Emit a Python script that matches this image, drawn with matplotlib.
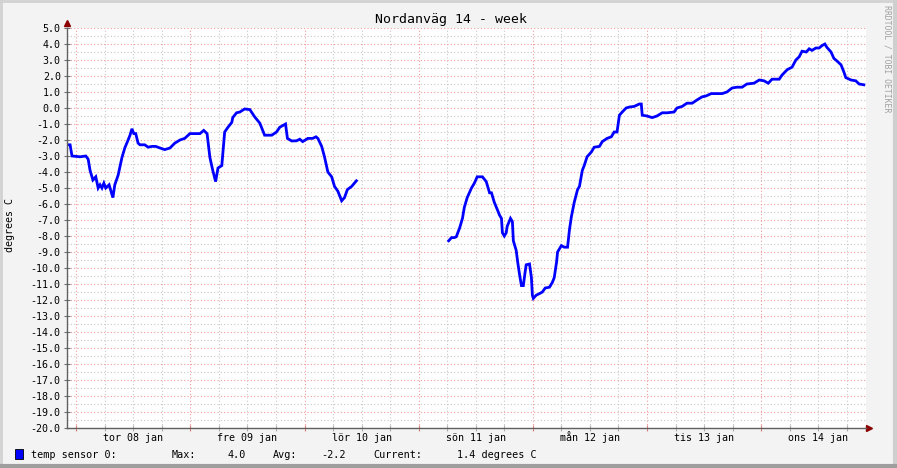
import numpy as np
import matplotlib
matplotlib.use("Agg")
import matplotlib.pyplot as plt
from matplotlib.lines import Line2D

# hours since tor 08 jan 00:00, temperature in degrees C
hours1 = [-1.95, -1.3, -0.9, 0.8, 2.0, 2.5, 2.9, 3.5, 4.1, 4.6, 5.0, 5.4, 5.8, 6.2,
          6.9, 7.3, 7.7, 8.1, 8.8, 9.6, 10.2, 10.9, 11.3, 11.7, 12.1, 12.5, 13.0,
          13.4, 14.4, 15.1, 15.9, 16.7, 17.6, 18.6, 19.7, 20.7, 21.8, 22.8, 23.9,
          24.9, 26.0, 26.8, 27.5, 28.1, 28.7, 29.3, 29.8, 30.6, 30.8, 31.2, 31.9,
          32.7, 32.9, 33.7, 34.4, 35.4, 36.5, 37.5, 38.6, 39.0, 39.6, 41.1, 42.1,
          42.8, 44.0, 44.4, 45.3, 46.3, 47.0, 47.6, 48.7, 49.7, 50.4, 50.8, 51.6,
          52.2, 52.9, 53.7, 54.3, 55.0, 55.8, 56.4, 57.0, 57.9, 58.9]
temps1 = [-2.3, -2.3, -3.0, -3.05, -3.0, -3.2, -3.9, -4.5, -4.3, -5.0, -4.8, -5.0, -4.7, -5.0,
          -4.8, -5.2, -5.6, -4.8, -4.2, -3.1, -2.5, -2.0, -1.7, -1.3, -1.6, -1.6, -2.2,
          -2.3, -2.3, -2.45, -2.4, -2.4, -2.5, -2.6, -2.5, -2.2, -2.0, -1.9, -1.6,
          -1.6, -1.6, -1.4, -1.6, -3.1, -3.9, -4.6, -3.75, -3.6, -2.9, -1.5, -1.2,
          -0.9, -0.6, -0.3, -0.25, -0.06, -0.1, -0.55, -0.95, -1.25, -1.7, -1.7, -1.5,
          -1.2, -1.0, -1.9, -2.06, -2.05, -1.95, -2.1, -1.9, -1.9, -1.8, -1.9, -2.4,
          -3.06, -4.0, -4.3, -4.9, -5.2, -5.8, -5.6, -5.1, -4.9, -4.55]

hours2 = [78.3, 78.9, 79.5, 79.9, 80.6, 81.2, 81.6, 82.2, 83.1, 83.7, 84.3, 85.4, 86.2,
          86.9, 87.3, 87.9, 88.6, 89.0, 89.4, 89.6, 90.0, 90.4, 90.6, 91.3, 91.7, 91.9,
          92.5, 92.8, 93.2, 93.6, 94.0, 94.4, 94.6, 95.3, 95.7, 95.9, 96.1, 96.7, 97.4,
          98.0, 98.6, 99.5, 100.1, 100.5, 101.0, 101.2, 102.0, 102.6, 103.3, 103.7,
          104.1, 104.7, 105.4, 105.8, 106.4, 106.8, 107.4, 108.3, 108.9, 110.0, 110.6,
          111.6, 112.5, 113.1, 113.7, 114.2, 114.8, 115.6, 116.3, 117.3, 118.4, 118.8,
          119.0, 120.0, 121.1, 122.1, 123.2, 124.2, 125.7, 126.3, 127.4, 128.4, 129.5,
          130.5, 131.6, 132.4, 133.5, 134.5, 135.8, 136.8, 137.9, 138.9, 140.0, 141.0,
          142.5, 143.6, 144.6, 145.5, 146.3, 147.8, 148.4, 149.5, 150.5, 151.3, 152.0,
          152.6, 153.5, 154.1, 154.7, 155.5, 156.2, 156.8, 157.4, 157.8, 158.7, 159.3,
          159.9, 160.8, 161.4, 161.8, 162.9, 163.9, 164.6, 165.6]
temps2 = [-8.3, -8.1, -8.1, -8.05, -7.5, -6.9, -6.2, -5.6, -5.0, -4.7, -4.3, -4.3, -4.6,
          -5.3, -5.3, -5.9, -6.4, -6.7, -6.9, -7.8, -8.0, -7.8, -7.4, -6.9, -7.1, -8.3,
          -8.9, -9.6, -10.4, -11.1, -11.1, -10.2, -9.8, -9.75, -10.6, -11.7, -11.9, -11.7, -11.6,
          -11.5, -11.25, -11.2, -10.9, -10.6, -9.6, -9.0, -8.6, -8.7, -8.7, -7.6,
          -6.8, -5.9, -5.1, -4.9, -3.9, -3.6, -3.05, -2.75, -2.45, -2.4, -2.1,
          -1.9, -1.8, -1.5, -1.5, -0.45, -0.25, 0.0, 0.06, 0.1, 0.25, 0.25,
          -0.45, -0.5, -0.6, -0.5, -0.3, -0.3, -0.25, 0.0, 0.1, 0.3, 0.3,
          0.5, 0.7, 0.75, 0.9, 0.9, 0.9, 1.0, 1.25, 1.3, 1.3, 1.5,
          1.55, 1.75, 1.7, 1.55, 1.8, 1.8, 2.06, 2.4, 2.55, 3.0, 3.2,
          3.55, 3.5, 3.7, 3.6, 3.75, 3.75, 3.9, 4.0, 3.8, 3.5, 3.1,
          2.95, 2.7, 2.25, 1.9, 1.75, 1.7, 1.5, 1.45]

day_labels = ["tor 08 jan", "fre 09 jan", "lör 10 jan", "sön 11 jan",
              "mån 12 jan", "tis 13 jan", "ons 14 jan"]
t_start, t_end = -1.95, 166.05
y_min, y_max = -20, 5

title = "Nordanväg 14 - week"
legend_name = "temp sensor 0:"
stat_max, stat_avg, stat_cur = 4.0, -2.2, 1.4

mono = "DejaVu Sans Mono"
W, H = 897, 468
fig = plt.figure(figsize=(W / 100, H / 100), dpi=100)
fig.patch.set_facecolor("#f3f3f3")

ax = fig.add_axes([67 / W, 40 / H, 799 / W, 400 / H])
ax.set_facecolor("white")
ax.set_xlim(t_start, t_end)
ax.set_ylim(y_min, y_max)

dots = (0, (1, 2))
# grid: red at whole degrees / midnights, grey in between
major_x = np.arange(0, t_end, 24)
minor_x = [h for h in np.arange(0, t_end, 6) if h % 24 != 0]
ax.set_yticks(np.arange(y_min, y_max + 1, 1))
ax.set_yticks(np.arange(y_min + 0.5, y_max, 1), minor=True)
ax.set_xticks(major_x)
ax.set_xticks(minor_x, minor=True)
ax.grid(which="minor", color="#c8c8c8", linestyle=dots, linewidth=0.8)
ax.grid(which="major", color="#f09a9a", linestyle=dots, linewidth=0.8)
ax.set_axisbelow(True)

ax.set_yticklabels([f"{v:.1f}" for v in np.arange(y_min, y_max + 1, 1)],
                   fontfamily=mono, fontsize=7.2)
ax.set_xticklabels([])
ax.tick_params(axis="y", which="major", direction="inout", length=5, width=0.8,
               color="#707070", pad=2)
ax.tick_params(axis="y", which="minor", length=0)
ax.tick_params(axis="x", which="major", direction="inout", length=4, width=0.8,
               color="#e08080")
ax.tick_params(axis="x", which="minor", direction="inout", length=4, width=0.8,
               color="#b0b0b0")

for i, lab in enumerate(day_labels):
    ax.text(12 + 24 * i, 1 - 441 / H, lab,
            transform=matplotlib.transforms.blended_transform_factory(ax.transData, fig.transFigure),
            ha="center", va="baseline", fontfamily=mono, fontsize=7.2)

for s in ["top", "right"]:
    ax.spines[s].set_visible(False)
for s in ["left", "bottom"]:
    ax.spines[s].set_color("#606060")
    ax.spines[s].set_linewidth(1)

# arrows
ax.plot([0], [1.012], marker="^", color="#8b0000", markersize=4, transform=ax.transAxes,
        clip_on=False)
ax.plot([1.004], [0], marker=">", color="#8b0000", markersize=4, transform=ax.transAxes,
        clip_on=False)

ax.plot(hours1, temps1, color="#0000ff", linewidth=2, solid_joinstyle="miter")
ax.plot(hours2, temps2, color="#0000ff", linewidth=2, solid_joinstyle="miter")

# titles
fig.text(451 / W, 1 - 19 / H, title, ha="center", va="center",
         fontfamily=mono, fontsize=9.5)
fig.text(10 / W, 1 - 225 / H, "degrees C", rotation=90, ha="center", va="center",
         fontfamily=mono, fontsize=7.2)
fig.text(887 / W, 1 - 5 / H, "RRDTOOL / TOBI OETIKER", rotation=270, ha="center",
         va="top", fontfamily=mono, fontsize=5.9, color="#a0a0a0")

# legend line
ly = 1 - 458 / H
fig.patches.append(plt.Rectangle((15 / W, 1 - 459 / H), 8 / W, 10 / H,
                                 transform=fig.transFigure, facecolor="#0000ff",
                                 edgecolor="black", linewidth=0.6))
pieces = [(30.6, legend_name), (171.5, "Max:"), (227.7, f"{stat_max:.1f}"),
          (272.5, "Avg:"), (321.5, f"{stat_avg:.1f}"), (373, "Current:"),
          (456.6, f"{stat_cur:.1f} degrees C")]
for x, txt in pieces:
    fig.text(x / W, ly, txt, ha="left", va="baseline", fontfamily=mono, fontsize=7.3)

# 3d frame
fig.add_artist(Line2D([0, 1], [1 - 1 / H, 1 - 1 / H], transform=fig.transFigure,
                      color="#d2d2d2", linewidth=2))
fig.add_artist(Line2D([1 / W, 1 / W], [0, 1], transform=fig.transFigure,
                      color="#d2d2d2", linewidth=2))
fig.add_artist(Line2D([1 - 2 / W, 1 - 2 / W], [0, 1], transform=fig.transFigure,
                      color="#cfcfcf", linewidth=3))
fig.add_artist(Line2D([0, 1], [2 / H, 2 / H], transform=fig.transFigure,
                      color="#9e9e9e", linewidth=3))

fig.savefig("out.png", dpi=100, facecolor=fig.get_facecolor())
